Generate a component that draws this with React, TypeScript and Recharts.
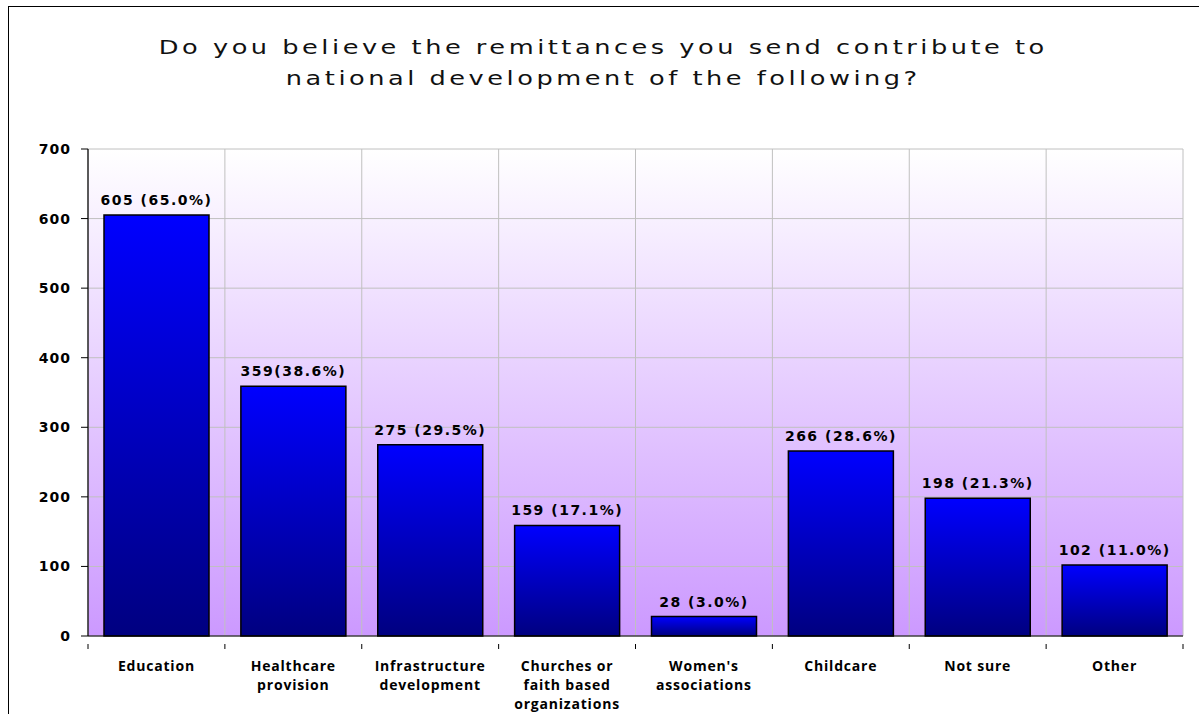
import React from 'react';
import {
  BarChart,
  Bar,
  XAxis,
  YAxis,
  CartesianGrid,
  LabelList,
} from 'recharts';

const categoryLines = [
  ['Education'],
  ['Healthcare', 'provision'],
  ['Infrastructure', 'development'],
  ['Churches or', 'faith based', 'organizations'],
  ["Women's", 'associations'],
  ['Childcare'],
  ['Not sure'],
  ['Other'],
];
const counts = [605, 359, 275, 159, 28, 266, 198, 102];
const valueLabels = [
  '605 (65.0%)',
  '359(38.6%)',
  '275 (29.5%)',
  '159 (17.1%)',
  '28 (3.0%)',
  '266 (28.6%)',
  '198 (21.3%)',
  '102 (11.0%)',
];
const yTicks = [0, 100, 200, 300, 400, 500, 600, 700];

const data = categoryLines.map((lines, i) => ({
  name: lines.join(' '),
  count: counts[i],
  label: valueLabels[i],
}));

// category labels, plus the tick marks that Excel puts between categories
const CategoryTick = (props: any) => {
  const { x, y, payload, index } = props;
  const half = payload.offset || 0;
  const lines = categoryLines[payload.index ?? index] || [payload.value];
  const isLast = (payload.index ?? index) === categoryLines.length - 1;
  return (
    <g>
      <line x1={x - half} x2={x - half} y1={y} y2={y + 5} stroke='#000' />
      {isLast && (
        <line x1={x + half} x2={x + half} y1={y} y2={y + 5} stroke='#000' />
      )}
      <text
        x={x}
        y={y}
        textAnchor='middle'
        fontFamily='"Open Sans", sans-serif'
        fontWeight='bold'
        fontSize={14}
        letterSpacing={0.8}
        fill='#000'
      >
        {lines.map((l: string, i: number) => (
          <tspan key={i} x={x} dy={i === 0 ? 27 : 19}>
            {l}
          </tspan>
        ))}
      </text>
    </g>
  );
};

const App = () => {
  return (
    <div
      style={{
        position: 'absolute',
        left: 8,
        top: 6,
        width: 1191,
        height: 708,
        borderTop: '1px solid #000',
        borderLeft: '1px solid #000',
        background: '#fff',
      }}
    >
      <div
        style={{
          position: 'absolute',
          left: 0,
          top: 25,
          width: 1190,
          textAlign: 'center',
          fontFamily: '"DejaVu Sans", sans-serif',
          fontSize: 19,
          letterSpacing: 2.6,
          lineHeight: '31px',
          color: '#111',
          transform: 'scaleX(1.35)',
          transformOrigin: '597px 0',
        }}
      >
        Do you believe the remittances you send contribute to
        <br />
        national development of the following?
      </div>
      <BarChart
        width={1190}
        height={707}
        data={data}
        margin={{ top: 142, right: 16, bottom: 0, left: 0 }}
      >
        <defs>
          <linearGradient id='plotBg' x1='0' y1='0' x2='0' y2='1'>
            <stop offset='0%' stopColor='#ffffff' />
            <stop offset='100%' stopColor='#cc99ff' />
          </linearGradient>
          <linearGradient id='barFill' x1='0' y1='0' x2='0' y2='1'>
            <stop offset='0%' stopColor='#0000ff' />
            <stop offset='100%' stopColor='#000080' />
          </linearGradient>
        </defs>
        <CartesianGrid
          stroke='#c0c0c0'
          fill='url(#plotBg)'
          fillOpacity={1}
          verticalCoordinatesGenerator={({ offset }: any) =>
            categoryLines
              .map((_, i) => offset.left + (offset.width * i) / categoryLines.length)
              .concat(offset.left + offset.width)
          }
        />
        <XAxis
          dataKey='name'
          height={78}
          axisLine={{ stroke: '#000', strokeWidth: 1.2 }}
          tickLine={false}
          interval={0}
          tick={<CategoryTick />}
        />
        <YAxis
          width={79}
          domain={[0, 700]}
          ticks={yTicks}
          interval={0}
          tickSize={7}
          tickMargin={10}
          axisLine={{ stroke: '#000', strokeWidth: 1.2 }}
          tickLine={{ stroke: '#000' }}
          tick={{
            fill: '#000',
            fontFamily: '"DejaVu Sans", sans-serif',
            fontWeight: 'bold',
            fontSize: 14,
            letterSpacing: 1,
          }}
        />
        <Bar
          dataKey='count'
          barSize={105}
          fill='url(#barFill)'
          stroke='#000'
          strokeWidth={1.5}
          isAnimationActive={false}
        >
          <LabelList
            dataKey='label'
            position='top'
            offset={10}
            fill='#000'
            fontFamily='"DejaVu Sans", sans-serif'
            fontWeight='bold'
            fontSize={14}
            letterSpacing={1.5}
          />
        </Bar>
      </BarChart>
    </div>
  );
};

export default App;
